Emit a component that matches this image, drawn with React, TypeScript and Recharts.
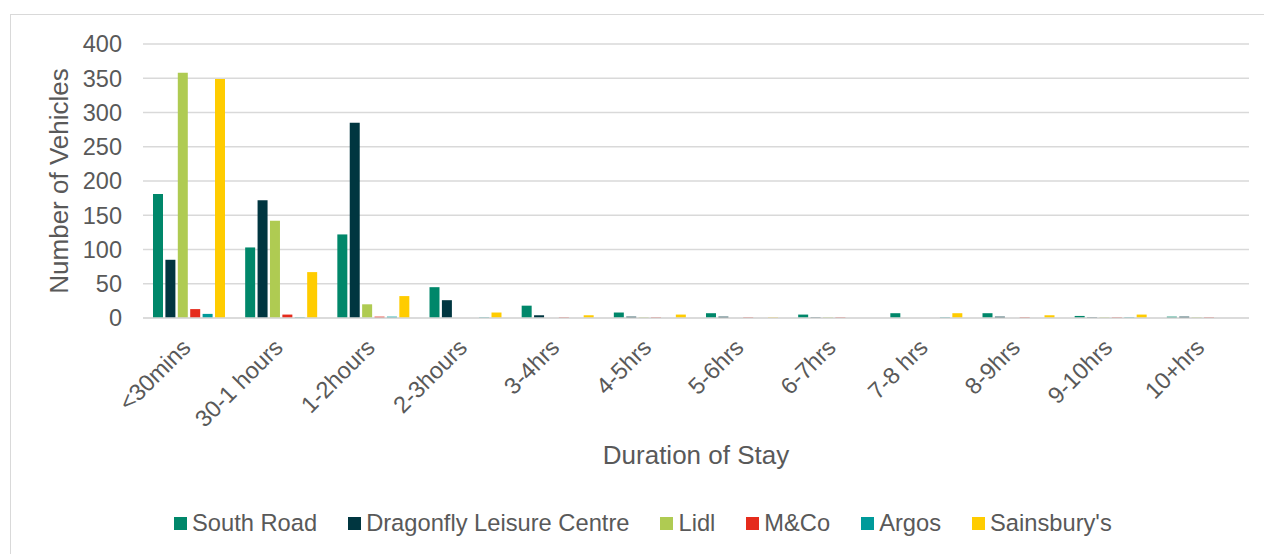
import React from 'react';
import { BarChart, Bar, XAxis, YAxis, CartesianGrid, Legend } from 'recharts';

const categories = ['<30mins', '30-1 hours', '1-2hours', '2-3hours', '3-4hrs', '4-5hrs', '5-6hrs', '6-7hrs', '7-8 hrs', '8-9hrs', '9-10hrs', '10+hrs'];
const southRoad = [181, 103, 122, 45, 18, 8, 7, 5, 7, 7, 3, 2];
const dragonfly = [85, 172, 285, 26, 4, 2, 2, 1, 0, 2, 1, 2];
const lidl = [358, 142, 20, 0, 0, 1, 0, 1, 0, 0, 1, 1];
const mco = [13, 5, 2, 0, 1, 1, 1, 1, 0, 1, 1, 1];
const argos = [6, 1, 2, 1, 0, 0, 0, 0, 1, 0, 1, 0];
const sainsburys = [349, 67, 32, 8, 4, 5, 1, 0, 7, 4, 5, 0];
const yTicks = [0, 50, 100, 150, 200, 250, 300, 350, 400];

const seriesDefs = [
  { key: 'southRoad', name: 'South Road', color: '#00876a', values: southRoad },
  { key: 'dragonfly', name: 'Dragonfly Leisure Centre', color: '#003640', values: dragonfly },
  { key: 'lidl', name: 'Lidl', color: '#afcb52', values: lidl },
  { key: 'mco', name: 'M&Co', color: '#e52b1c', values: mco },
  { key: 'argos', name: 'Argos', color: '#009a9a', values: argos },
  { key: 'sainsburys', name: "Sainsbury's", color: '#ffcc00', values: sainsburys },
];

const data = categories.map((c, i) => {
  const row: Record<string, number | string> = { category: c };
  seriesDefs.forEach((s) => {
    row[s.key] = s.values[i];
  });
  return row;
});

const FONT = '"Liberation Sans", Arial, sans-serif';
const TEXT = '#595959';

const XTick = (props: any) => {
  const { x, payload } = props;
  const ax = x + 3;
  const ay = 349;
  return (
    <text
      x={ax}
      y={ay}
      transform={`rotate(-45, ${ax}, ${ay})`}
      textAnchor="end"
      fill={TEXT}
      fontSize={23.5}
      fontFamily={FONT}
    >
      {payload.value}
    </text>
  );
};

const LegendContent = () => (
  <div style={{ position: 'relative', width: 0, height: 0 }}>
    <div
      style={{
        position: 'absolute',
        left: 0,
        top: 0,
        display: 'flex',
        alignItems: 'center',
        fontFamily: FONT,
        fontSize: 23.7,
        color: TEXT,
        whiteSpace: 'nowrap',
      }}
    >
      {seriesDefs.map((s) => (
        <div key={s.key} style={{ display: 'flex', alignItems: 'center', marginRight: 31 }}>
          <span style={{ display: 'inline-block', width: 13, height: 13, background: s.color, marginRight: 5 }} />
          <span>{s.name}</span>
        </div>
      ))}
    </div>
  </div>
);

export default function App() {
  return (
    <div style={{ position: 'absolute', left: 0, top: 0, width: 1264, height: 554, overflow: 'hidden', background: '#fff' }}>
      <div style={{ position: 'absolute', left: 10, top: 14, width: 1270, height: 560, border: '1px solid #d9d9d9', boxSizing: 'border-box' }} />
      <div style={{ position: 'absolute', left: 0, top: 0 }}>
        <BarChart
          width={1264}
          height={554}
          data={data}
          margin={{ top: 44, right: 15, bottom: 206, left: 83 }}
          barCategoryGap={10}
          barGap={2.4}
        >
          <CartesianGrid vertical={false} stroke="#d9d9d9" strokeWidth={1.5} />
          <XAxis
            dataKey="category"
            height={30}
            interval={0}
            tickLine={false}
            axisLine={{ stroke: '#d9d9d9', strokeWidth: 1.5 }}
            tick={<XTick />}
            label={{
              content: () => (
                <text x={696} y={464} textAnchor="middle" fill={TEXT} fontSize={26} fontFamily={FONT}>
                  Duration of Stay
                </text>
              ),
            }}
          />
          <YAxis
            width={60}
            domain={[0, 400]}
            ticks={yTicks}
            interval={0}
            tickLine={false}
            axisLine={false}
            tickSize={0}
            tickMargin={21}
            tick={{ fill: TEXT, fontSize: 23.5, fontFamily: FONT }}
            label={{
              content: () => (
                <text
                  x={68}
                  y={181}
                  transform="rotate(-90, 68, 181)"
                  textAnchor="middle"
                  fill={TEXT}
                  fontSize={26}
                  fontFamily={FONT}
                >
                  Number of Vehicles
                </text>
              ),
            }}
          />
          <Legend
            content={<LegendContent />}
            wrapperStyle={{ position: 'absolute', left: 174, top: 510, width: 0, height: 0, bottom: 'auto' }}
          />
          {seriesDefs.map((s) => (
            <Bar key={s.key} dataKey={s.key} name={s.name} fill={s.color} isAnimationActive={false} />
          ))}
        </BarChart>
      </div>
    </div>
  );
}
